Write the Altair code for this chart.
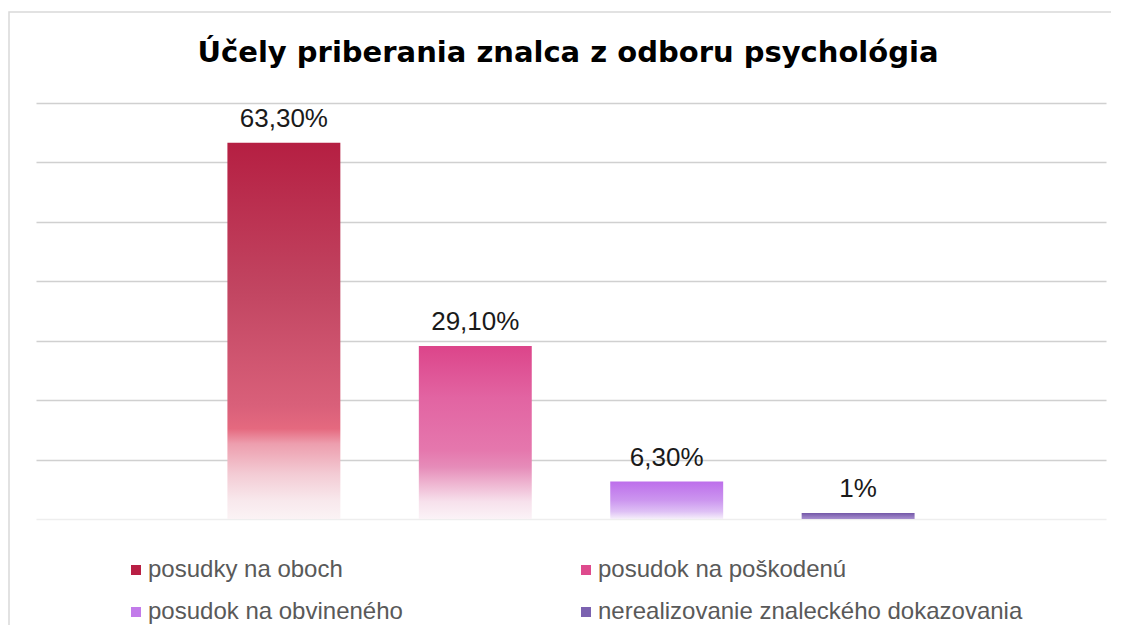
import altair as alt
import pandas as pd

# ---- data ----
categories = [
    "posudky na oboch",
    "posudok na poškodenú",
    "posudok na obvineného",
    "nerealizovanie znaleckého dokazovania",
]
values = [63.3, 29.1, 6.3, 1.0]
labels = ["63,30%", "29,10%", "6,30%", "1%"]
title_text = "Účely priberania znalca z odboru psychológia"

# ---- styles ----
legend_colors = ["#B81F44", "#DE4A8D", "#C27BEA", "#7B62B0"]
gradients = [
    [("#B51F42", 0.0), ("#C24662", 0.4), ("#D9607A", 0.7), ("#E5697F", 0.76),
     ("#ED9EAE", 0.8), ("#F3CBD4", 0.88), ("#F8E8EC", 0.95), ("#FBF3F5", 1.0)],
    [("#DC458A", 0.0), ("#E264A2", 0.3), ("#E577AD", 0.6), ("#E68CB9", 0.7),
     ("#EFB7D2", 0.8), ("#F7E1EC", 0.9), ("#FBF3F7", 1.0)],
    [("#BD6EEB", 0.0), ("#CC96EF", 0.5), ("#DEC0F5", 0.8), ("#F6F0FA", 1.0)],
    [("#7458A8", 0.0), ("#A890D0", 1.0)],
]

df = pd.DataFrame({"cat": categories, "val": values, "label": labels})

W, H = 1070, 416

x_enc = alt.X("cat:N", sort=categories, axis=None,
              scale=alt.Scale(domain=categories, paddingInner=0.41, paddingOuter=1))
y_enc = alt.Y("val:Q", scale=alt.Scale(domain=[0, 70], nice=False),
              axis=alt.Axis(values=list(range(0, 71, 10)), labels=False, ticks=False,
                            domain=False, title=None, gridWidth=1.6,
                            gridColor={"condition": {"test": "datum.value === 0", "value": "#EEEEEE"},
                                       "value": "#D0D0D0"}))

base = alt.Chart(df)

legend_bars = base.mark_bar(opacity=0).encode(
    x=x_enc, y=y_enc,
    fill=alt.Fill("cat:N", scale=alt.Scale(domain=categories, range=legend_colors),
                  legend=alt.Legend(title=None, orient="none", legendX=88, legendY=455,
                                    columns=2, direction="horizontal", columnPadding=171,
                                    rowPadding=18, symbolType="square", symbolSize=100,
                                    symbolStrokeWidth=0, symbolOpacity=1, labelOffset=0,
                                    padding=0, labelFont="Liberation Sans", labelFontSize=24,
                                    labelColor="#595959", labelLimit=600)),
)

layers = [legend_bars]
for cat, stops in zip(categories, gradients):
    grad = alt.Gradient(gradient="linear", x1=0, x2=0, y1=0, y2=1,
                        stops=[alt.GradientStop(color=c, offset=o) for c, o in stops])
    layers.append(
        base.transform_filter(alt.datum.cat == cat)
        .mark_bar(color=grad)
        .encode(x=x_enc, y="val:Q")
    )

text = base.mark_text(font="Liberation Sans", fontSize=26, color="#1a1a1a",
                      baseline="alphabetic", dy=-16).encode(
    x=alt.X("cat:N", sort=categories), y="val:Q", text="label:N")
layers.append(text)

title_mark = alt.Chart(alt.Data(values=[{"t": title_text}])).mark_text(
    font="DejaVu Sans", fontSize=29, fontWeight="bold", color="#000000",
    align="center", baseline="alphabetic").encode(
    x=alt.value(W / 2 - 3), y=alt.value(-41), text="t:N")
layers.append(title_mark)

frame = alt.Chart(alt.Data(values=[{}])).mark_rect(
    fill=None, stroke="#D9D9D9", strokeWidth=1.5).encode(
    x=alt.value(-27), x2=alt.value(W + 100), y=alt.value(-91), y2=alt.value(H + 200))
layers.append(frame)

chart = alt.layer(*layers).properties(
    width=W, height=H,
    autosize=alt.AutoSizeParams(type="none"),
    padding={"left": 28, "top": 95, "right": 5, "bottom": 106},
).configure_view(stroke=None)

chart.save("out.html", embed_options={"renderer": "svg", "actions": False})
